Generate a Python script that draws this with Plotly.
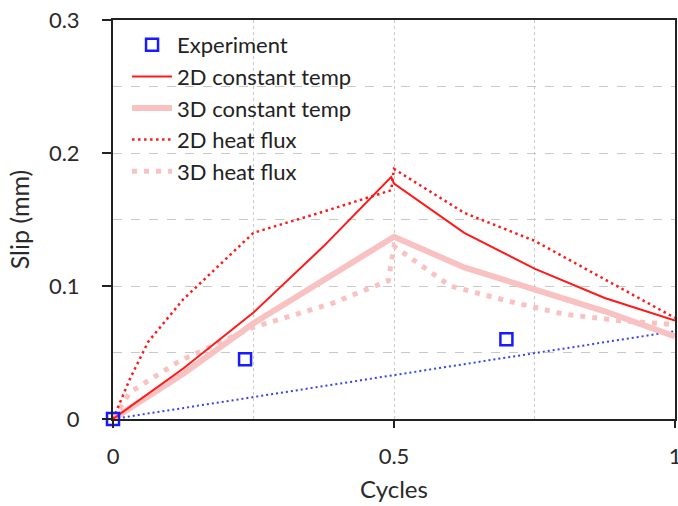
import plotly.graph_objects as go

# measured slip data (cycles vs slip in mm)
exp_x = [0, 0.235, 0.70]
exp_y = [0, 0.045, 0.060]

fit_x = [0, 1.0]
fit_y = [0, 0.066]

c2d_x = [0, 0.125, 0.25, 0.375, 0.495, 0.5, 0.625, 0.75, 0.875, 1.0]
c2d_y = [0, 0.038, 0.080, 0.130, 0.182, 0.177, 0.140, 0.113, 0.091, 0.074]

c3d_x = [0, 0.125, 0.25, 0.375, 0.5, 0.625, 0.75, 0.875, 1.0]
c3d_y = [0, 0.034, 0.072, 0.105, 0.137, 0.114, 0.097, 0.081, 0.062]

h2d_x = [0, 0.03, 0.0625, 0.125, 0.25, 0.375, 0.495, 0.5, 0.625, 0.75, 0.875, 1.0]
h2d_y = [0, 0.030, 0.058, 0.090, 0.140, 0.156, 0.172, 0.188, 0.155, 0.134, 0.105, 0.076]

h3d_x = [0, 0.03, 0.12, 0.25, 0.39, 0.49, 0.5, 0.6, 0.7, 0.8, 0.9, 1.0]
h3d_y = [0, 0.020, 0.044, 0.069, 0.087, 0.104, 0.130, 0.100, 0.089, 0.079, 0.074, 0.071]

RED = "#ff1a1a"
PINK = "#f9c2c2"
BLUE = "#1a1aff"
FONT = "Lato"

fig = go.Figure()

fig.add_trace(go.Scatter(x=fit_x, y=fit_y, mode="lines", showlegend=False,
                         line=dict(color="#3344ee", width=2, dash="2px,3px")))
fig.add_trace(go.Scatter(x=c3d_x, y=c3d_y, mode="lines", name="3D constant temp",
                         line=dict(color=PINK, width=6)))
fig.add_trace(go.Scatter(x=h3d_x, y=h3d_y, mode="lines", name="3D heat flux",
                         line=dict(color=PINK, width=5, dash="5px,7px")))
fig.add_trace(go.Scatter(x=c2d_x, y=c2d_y, mode="lines", name="2D constant temp",
                         line=dict(color=RED, width=2)))
fig.add_trace(go.Scatter(x=h2d_x, y=h2d_y, mode="lines", name="2D heat flux",
                         line=dict(color=RED, width=2.5, dash="2.5px,3.5px")))
fig.add_trace(go.Scatter(x=exp_x, y=exp_y, mode="markers", name="Experiment",
                         marker=dict(symbol="square-open", size=12, color=BLUE,
                                     line=dict(width=2.5, color=BLUE)),
                         cliponaxis=False))

fig.update_layout(
    width=678, height=506,
    margin=dict(l=113, r=3, t=20, b=87),
    paper_bgcolor="white", plot_bgcolor="white",
    font=dict(family=FONT, size=22, color="#2a2a2a"),
    legend=dict(x=0.025, y=0.99, xanchor="left", yanchor="top",
                bgcolor="rgba(0,0,0,0)", font=dict(size=22, color="#222"),
                itemwidth=40),
)

fig.update_xaxes(range=[0, 1], tickvals=[0, 0.5, 1], ticktext=["0", "0.5", "1"],
                 automargin=False, ticklabelstandoff=10, ticklabeloverflow="allow",
                 showline=True, linecolor="#222", linewidth=2, mirror=True,
                 ticks="outside", ticklen=7, tickwidth=2, tickcolor="#222",
                 showgrid=True, gridcolor="#c8c8c8", griddash="dot", gridwidth=1,
                 minor=dict(dtick=0.25, showgrid=True, gridcolor="#c8c8c8", griddash="dot"),
                 zeroline=False,
                 title=dict(text="Cycles", font=dict(size=24), standoff=13))
fig.update_yaxes(range=[0, 0.3], tickvals=[0, 0.1, 0.2, 0.3],
                 ticktext=["0", "0.1", "0.2", "0.3"],
                 automargin=False, ticklabelstandoff=18,
                 showline=True, linecolor="#222", linewidth=2, mirror=True,
                 ticks="outside", ticklen=9, tickwidth=2, tickcolor="#222",
                 showgrid=True, gridcolor="#c8c8c8", griddash="dash", gridwidth=1,
                 minor=dict(dtick=0.05, showgrid=True, gridcolor="#c8c8c8", griddash="dash"),
                 zeroline=False,
                 title=dict(text="Slip (mm)", font=dict(size=25), standoff=12))

# legend order as in reference: Experiment, 2D const, 3D const, 2D flux, 3D flux
order = ["Experiment", "2D constant temp", "3D constant temp", "2D heat flux", "3D heat flux"]
for i, name in enumerate(order):
    fig.update_traces(selector=dict(name=name), legendrank=i + 1)

# page has a default 8px body margin; drop it so the figure fills the window
fig.write_html("out.html", config={"displayModeBar": False},
               post_script="document.body.style.margin='0';")
